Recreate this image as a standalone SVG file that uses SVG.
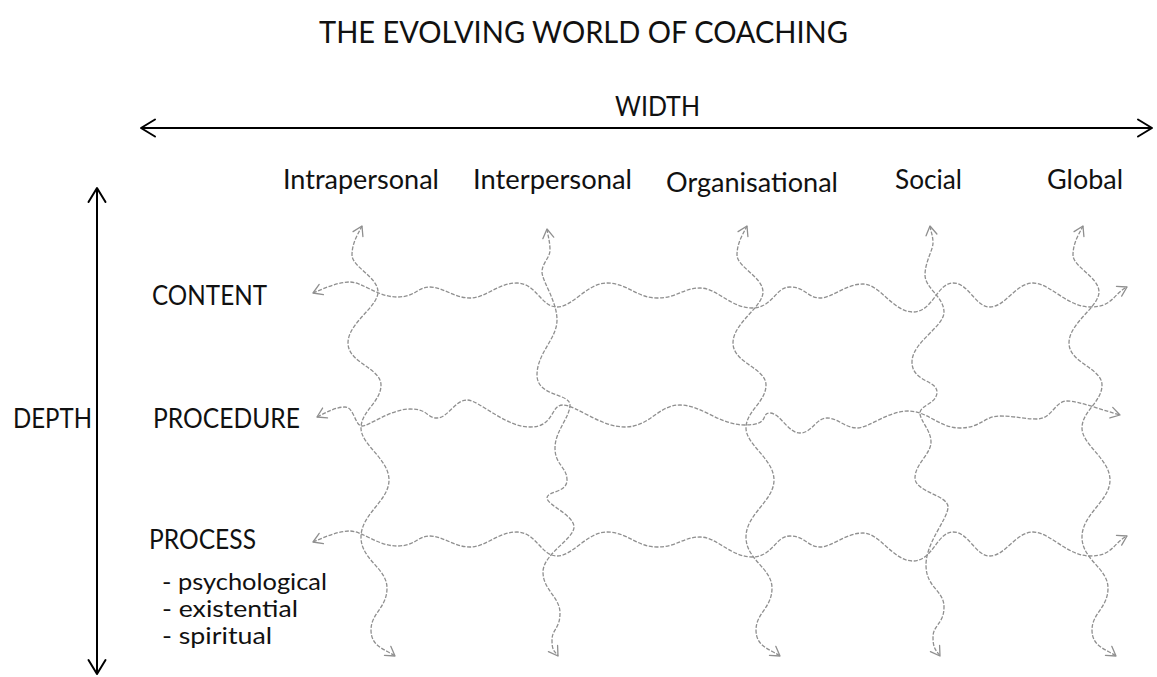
<svg xmlns="http://www.w3.org/2000/svg" width="1157" height="677" viewBox="0 0 1157 677">
<style>
.t{font-family:Lato,"Open Sans","Liberation Sans",sans-serif;font-size:26px;fill:#111}
.title{font-size:31px}
.sub{font-size:22.4px}
.w{fill:none;stroke:#8f8f8f;stroke-width:1.3;stroke-dasharray:4 1.6;marker-start:url(#ga);marker-end:url(#ga)}
.axis{fill:none;stroke:#000;stroke-width:2;marker-start:url(#ba);marker-end:url(#ba)}
.gh{fill:none;stroke:#8f8f8f;stroke-width:1.3;stroke-linecap:round;stroke-linejoin:round}
.bh{fill:none;stroke:#000;stroke-width:2;stroke-linecap:round;stroke-linejoin:round}
</style>
<defs>
<marker id="ga" viewBox="-11 -7 13 14" refX="0" refY="0" markerWidth="13" markerHeight="14" orient="auto-start-reverse" markerUnits="userSpaceOnUse">
<path class="gh" d="M-9,-5.5 L0,0 L-9,5.5"/>
</marker>
<marker id="ba" viewBox="-17 -11 19 22" refX="0" refY="0" markerWidth="19" markerHeight="22" orient="auto-start-reverse" markerUnits="userSpaceOnUse">
<path class="bh" d="M-14,-8.5 L0,0 L-14,8.5"/>
</marker>
</defs>
<rect width="1157" height="677" fill="#fff"/>
<g id="title"><text class="t title" x="319" y="43" textLength="529" lengthAdjust="spacingAndGlyphs">THE EVOLVING WORLD OF COACHING</text></g>
<g id="axis-width">
<path class="axis" d="M141,128 L1152,128"/>
<text class="t" x="615" y="116" textLength="85" lengthAdjust="spacingAndGlyphs">WIDTH</text>
</g>
<g id="axis-depth">
<path class="axis" d="M97,188 L97,674"/>
<text class="t" x="13" y="428" textLength="79" lengthAdjust="spacingAndGlyphs">DEPTH</text>
</g>
<g id="col-intrapersonal"><text class="t" x="283" y="189" textLength="156" lengthAdjust="spacingAndGlyphs">Intrapersonal</text></g>
<g id="col-interpersonal"><text class="t" x="473" y="189" textLength="159" lengthAdjust="spacingAndGlyphs">Interpersonal</text></g>
<g id="col-organisational"><text class="t" x="666" y="192" textLength="172" lengthAdjust="spacingAndGlyphs">Organisational</text></g>
<g id="col-social"><text class="t" x="895" y="189" textLength="67" lengthAdjust="spacingAndGlyphs">Social</text></g>
<g id="col-global"><text class="t" x="1047" y="189" textLength="76" lengthAdjust="spacingAndGlyphs">Global</text></g>
<g id="row-content"><text class="t" x="152" y="305" textLength="115" lengthAdjust="spacingAndGlyphs">CONTENT</text></g>
<g id="row-procedure"><text class="t" x="153" y="428" textLength="147" lengthAdjust="spacingAndGlyphs">PROCEDURE</text></g>
<g id="row-process">
<text class="t" x="149" y="549" textLength="107" lengthAdjust="spacingAndGlyphs">PROCESS</text>
<text class="t sub" x="162" y="590" textLength="165" lengthAdjust="spacingAndGlyphs">- psychological</text>
<text class="t sub" x="162" y="617" textLength="136" lengthAdjust="spacingAndGlyphs">- existential</text>
<text class="t sub" x="162" y="644" textLength="110" lengthAdjust="spacingAndGlyphs">- spiritual</text>
</g>
<g id="connectors">
<path id="h1" class="w" d="M313,293 C325,288 338,282 350,282 S378,297 397,297 S417,287 430,287 S454,298 470,298 S498,283 517,283 S541,307 557,307 S587,283 607,283 S637,298 657,298 S683,288 700,288 S731,308 752,308 S775,287 790,287 S808,298 820,298 S846,284 863,284 S893,312 913,312 S937,283 953,283 S975,307 990,307 S1016,283 1033,283 S1067,307 1090,307 S1112,295 1127,287"/>
<path id="h2" class="w" d="M317,417 C327,412 336,407 345,407 S355,426 362,426 S391,409 410,409 S426,418 437,418 S455,400 467,400 S505,427 530,427 S550,405 563,405 S600,427 625,427 S658,405 680,405 S719,425 745,425 S760,413 770,413 S788,433 800,433 S816,418 827,418 S845,428 857,428 S888,411 908,411 S939,428 960,428 S984,416 1000,416 S1022,419 1037,419 S1055,401 1067,401 S1105,411 1120,415"/>
<path id="h3" class="w" transform="translate(0,249)" d="M313,293 C325,288 338,282 350,282 S378,297 397,297 S417,287 430,287 S454,298 470,298 S498,283 517,283 S541,307 557,307 S587,283 607,283 S637,298 657,298 S683,288 700,288 S731,308 752,308 S775,287 790,287 S808,298 820,298 S846,284 863,284 S893,312 913,312 S937,283 953,283 S975,307 990,307 S1016,283 1033,283 S1067,307 1090,307 S1112,295 1127,287"/>
<path id="v1" class="w" d="M362,226 C358,234 352,243 352,255 S378,277 378,292 S348,323 348,343 S381,368 381,385 S361,411 361,428 S389,459 389,480 S361,514 361,537 S387,568 387,588 S371,613 371,630 S385,649 395,656"/>
<path id="v2" class="w" d="M547,229 C548,236 550,242 550,250 S542,263 542,272 S557,301 557,320 S537,353 537,375 S570,393 570,405 S555,431 555,448 S567,467 567,480 S547,491 547,498 S574,515 574,527 S543,554 543,572 S560,597 560,613 S552,629 552,640 S554,650 558,656"/>
<path id="v3" class="w" transform="translate(385,0)" d="M362,226 C358,234 352,243 352,255 S378,277 378,292 S348,323 348,343 S381,368 381,385 S361,411 361,428 S389,459 389,480 S361,514 361,537 S387,568 387,588 S371,613 371,630 S385,649 395,656"/>
<path id="v4" class="w" d="M930,226 C931,232 933,236 933,243 S925,262 925,275 S944,297 944,312 S912,342 912,362 S937,380 937,392 S920,405 920,413 S931,430 931,442 S915,464 915,478 S948,495 948,507 S926,542 926,565 S944,590 944,607 S933,625 933,637 S936,650 940,656"/>
<path id="v5" class="w" transform="translate(721,0)" d="M362,226 C358,234 352,243 352,255 S378,277 378,292 S348,323 348,343 S381,368 381,385 S361,411 361,428 S389,459 389,480 S361,514 361,537 S387,568 387,588 S371,613 371,630 S385,649 395,656"/>
</g>
</svg>
